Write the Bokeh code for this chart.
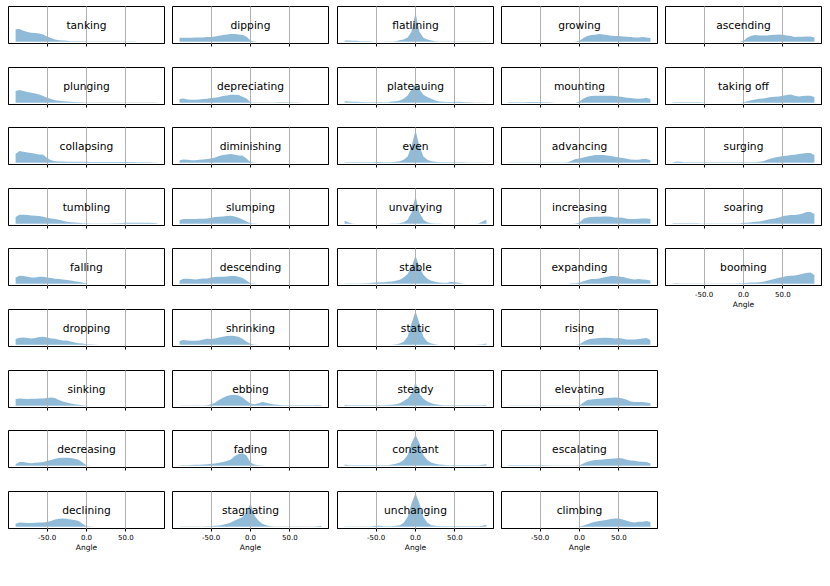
from bokeh.plotting import figure
from bokeh.layouts import row, column
from bokeh.models import Range1d, FixedTicker, PrintfTickFormatter, Label, ColumnDataSource, Spacer
from bokeh.embed import file_html
from bokeh.resources import INLINE

angles = list(range(-90, 95, 5))
H = 0.5  # faint tail

# ---- column 1 ----
tanking = [37, 38, 33, 29, 27, 26, 25, 22, 16, 11, 7, 5, 4, 3, 2, 2, 1.5, 1.5, 1] + [1] * 12 + [H] * 6
plunging = [35, 38, 35, 32, 30, 28, 25, 20, 15, 11, 8, 6, 5, 4, 3, 2.5, 2, 1.5, 1, 1, 1] + [0.8] * 16
collapsing = [27, 35, 33, 31, 29, 27, 25, 24, 14, 8, 5, 4, 4, 3, 3, 3, 3, 3, 3] + [2.5] * 12 + [2, 2, 2, 1.5, 1, 1]
tumbling = [20, 27, 27, 26, 25, 24, 23, 21, 18, 16, 14, 12, 9, 6, 5, 4, 3, 2, 2] + [1, 1, 1, 1, 1, 1, 1.5] + [2, 2.5, 3, 3.5, 3.5, 3.5, 3.5, 3, 3, 2.5, 2]
falling = [19, 24, 23, 21, 19, 19, 21, 21, 19, 17, 15, 14, 13, 11, 10, 8, 6, 4, 1] + [H] * 18
dropping = [17, 21, 22, 20, 19, 20, 23, 24, 22, 19, 18, 15, 13, 13, 10, 7, 5, 4, 2, 1.5, 1] + [H] * 16
sinking = [20, 22, 21, 20, 21, 21, 22, 22, 23, 25, 23, 17, 13, 10, 7, 5, 3, 2, 1] + [H] * 18
decreasing = [5, 11, 11, 9, 8, 9, 10, 11, 14, 17, 21, 23, 24, 24, 23, 21, 18, 10, 2] + [H] * 18
declining = [9, 13, 12, 11, 11, 12, 13, 13, 14, 17, 22, 24, 25, 24, 22, 20, 17, 9, 2, 1] + [H] * 17

# ---- column 2 ----
dipping = [12, 12, 12, 12, 13, 13, 13, 14, 14, 16, 18, 20, 22, 23, 23, 22, 20, 15, 4, 1] + [H] * 17
depreciating = [11, 13, 10, 9, 9, 10, 11, 12, 14, 15, 17, 20, 22, 24, 24, 23, 18, 13, 2] + [1, 1, 1, 1, 1, 1, 1.5, 1.5, 1.5, 1.5, 1, 1] + [H] * 6
diminishing = [8, 10, 9, 8, 8, 9, 10, 11, 13, 16, 20, 23, 25, 26, 24, 22, 21, 13, 2, 1] + [H] * 17
slumping = [11, 14, 14, 14, 14, 15, 15, 16, 18, 20, 21, 22, 23, 24, 22, 18, 13, 7, 2, 1] + [H] * 17
descending = [10, 15, 15, 14, 13, 14, 16, 16, 19, 20, 21, 21, 22, 23, 23, 21, 17, 10, 2, 1] + [H] * 17
shrinking = [11, 14, 13, 12, 12, 13, 16, 18, 17, 19, 22, 24, 26, 27, 26, 23, 18, 9, 3, 1] + [H] * 17
ebbing = [1, 1, 1, 1, 1, 1, 1, 1.5] + [5, 9, 17, 24, 29, 32, 33, 31, 25, 15, 7] + [5, 8, 11, 9, 6, 4, 3] + [2] * 9 + [2.5, 2]
fading = [2, 2, 2, 2.5, 3, 3.5, 4, 5, 6, 7, 9, 11, 14, 19, 29, 35, 37, 31, 10, 4, 2, 1] + [H] * 15
stagnating = [1, 1, 1, 1, 1, 1, 1, 1.5, 2, 3, 4, 6, 9, 13, 19, 24, 29, 44, 70, 34, 19, 9, 5, 2] + [1] * 11 + [1.5, 3]

# ---- column 3 ----
flatlining = [4, 4, 3, 3, 2, 2, 2, 1, H, H, 1, 1] + [1, 2, 5, 7, 13, 30, 87, 30, 12, 7, 4, 2, 1] + [1] * 12
plateauing = [5, 4, 3, 3, 2.5, 2, 2, 2, 2, 2, 2, 2] + [4, 5, 7, 12, 22, 40, 55, 40, 24, 17, 12, 7, 4] + [3, 2.5, 2.5, 3, 3, 2.5, 2, 1.5, 1, 1, 1, 1]
even = [2] * 8 + [2.5, 2.5, 2, 2] + [2, 3, 5, 9, 19, 49, 97, 49, 19, 9, 5, 3, 2] + [2, 2, 2, 2, 2, 1.5, 1, 1, 1, 1, 1, 1]
unvarying = [9, 4, 1] + [H] * 9 + [1, 1, 2, 5, 12, 34, 82, 34, 12, 5, 2, 1, 1] + [H] * 9 + [1, 7, 12]
stable = [1, 1, 1, 1, 1, 1.5, 2, 3, 4, 4.5, 5, 6] + [7, 9, 12, 19, 29, 50, 84, 50, 27, 15, 9, 6, 4] + [3.5, 3, 6, 5, 3, 1] + [H] * 6
static = [H] * 12 + [H, 2, 4, 9, 24, 64, 100, 64, 24, 9, 4, 2, H] + [H] * 9 + [1, 2, 4]
steady = [3, 2, 1.5, 1.5, 1.5, 1.5, 2, 2, 2, 2, 2, 2.5] + [3, 5, 8, 14, 22, 36, 69, 36, 21, 13, 8, 5, 3] + [2] + [1.5] * 9 + [2, 3]
constant = [4] + [2] * 11 + [4, 6, 10, 17, 32, 67, 92, 67, 32, 17, 10, 6, 4] + [3] + [2] * 9 + [3, 5]
unchanging = [1, 1, 1, 1, 1, 1, 1, 2, 3, 3, 2, 2] + [2, 3, 5, 12, 29, 69, 100, 69, 29, 12, 5, 3, 2] + [2] * 10 + [3, 6]

# ---- column 4 ----
growing = [H] * 17 + [1, 3] + [11, 17, 20, 21, 23, 22, 20, 18, 17, 17, 16, 15, 14, 13, 13, 14, 13, 11]
mounting = [2, 2, 2, 2, 2, 2.5, 2.5, 2.5, 2.5, 2, 2, 1] + [H] * 6 + [4] + [13, 18, 20, 21, 21, 21, 21, 21, 20, 19, 17, 15, 14, 13, 12, 13, 15, 11]
advancing = [1] * 15 + [1.5, 6, 11, 13] + [16, 19, 21, 23, 23, 23, 22, 20, 18, 16, 14, 12, 10, 9, 9, 11, 11, 8]
increasing = [H] * 17 + [1, 4] + [15, 19, 20, 21, 21, 22, 22, 21, 19, 19, 18, 15, 14, 14, 15, 16, 16, 14]
expanding = [H] * 16 + [1.5, 1.5, 4] + [8, 11, 14, 14, 16, 19, 21, 23, 23, 22, 20, 17, 14, 13, 14, 13, 12, 10]
rising = [H] * 18 + [2] + [9, 15, 18, 19, 20, 21, 21, 20, 19, 20, 18, 16, 16, 16, 17, 19, 20, 14]
elevating = [1] * 18 + [1] + [10, 17, 19, 20, 21, 22, 23, 24, 25, 24, 22, 18, 13, 11, 11, 11, 10, 8]
escalating = [1.5] * 11 + [1] * 7 + [1.5] + [7, 12, 15, 17, 18, 19, 20, 21, 22, 23, 22, 18, 16, 15, 13, 12, 11, 7]
climbing = [H] * 18 + [1] + [4, 8, 12, 15, 17, 19, 21, 23, 25, 25, 22, 18, 14, 13, 15, 15, 17, 14]

# ---- column 5 ----
ascending = [H] * 18 + [3] + [13, 18, 20, 19, 19, 19, 20, 21, 22, 21, 19, 17, 14, 15, 15, 16, 16, 13]
taking_off = [2] * 7 + [1.5, 1] + [H] * 9 + [2] + [5, 8, 10, 12, 13, 15, 17, 18, 19, 21, 23, 25, 21, 19, 20, 21, 21, 17]
surging = [1, 4, 3, 2, 1.5] + [2] * 12 + [2, 2] + [2, 1.5, 2, 3, 5, 9, 13, 16, 18, 20, 21, 23, 24, 26, 28, 29, 29, 23]
soaring = [2] * 7 + [1] * 11 + [3] + [3, 5, 6, 7, 9, 12, 14, 16, 19, 23, 25, 26, 26, 28, 31, 35, 35, 29]
booming = [1, 2] + [1] * 15 + [1.5, 2] + [3, 4, 4, 5, 6, 9, 12, 15, 18, 20, 23, 24, 25, 27, 30, 32, 34, 26]

columns = [
    [("tanking", tanking), ("plunging", plunging), ("collapsing", collapsing), ("tumbling", tumbling),
     ("falling", falling), ("dropping", dropping), ("sinking", sinking), ("decreasing", decreasing),
     ("declining", declining)],
    [("dipping", dipping), ("depreciating", depreciating), ("diminishing", diminishing), ("slumping", slumping),
     ("descending", descending), ("shrinking", shrinking), ("ebbing", ebbing), ("fading", fading),
     ("stagnating", stagnating)],
    [("flatlining", flatlining), ("plateauing", plateauing), ("even", even), ("unvarying", unvarying),
     ("stable", stable), ("static", static), ("steady", steady), ("constant", constant),
     ("unchanging", unchanging)],
    [("growing", growing), ("mounting", mounting), ("advancing", advancing), ("increasing", increasing),
     ("expanding", expanding), ("rising", rising), ("elevating", elevating), ("escalating", escalating),
     ("climbing", climbing)],
    [("ascending", ascending), ("taking off", taking_off), ("surging", surging), ("soaring", soaring),
     ("booming", booming)],
]

TICKS = [-50, 0, 50]
FONT = "DejaVu Sans"
ROW_H = [61, 60, 61, 60, 61, 61, 60, 61, 61]
COL_W = [164, 165, 164, 164, 165]
EXTRA_BOTTOM = 14
FRAME_W = 156
FRAME_H = 37


def make_panel(title, dens, w, h, show_labels):
    assert len(dens) == len(angles), title
    p = figure(width=w, height=h, x_range=Range1d(-99, 99), y_range=Range1d(-5, 105),
               output_backend="svg", toolbar_location=None,
               min_border_left=1, min_border_right=w - FRAME_W - 1, min_border_top=1,
               min_border_bottom=h - FRAME_H - 1)
    src = ColumnDataSource(dict(angle=angles, density=dens))
    p.varea(x="angle", y1=0, y2="density", source=src, fill_color="#1f77b4", fill_alpha=0.5)
    p.outline_line_color = "black"
    p.outline_line_width = 1
    p.background_fill_color = "white"
    p.border_fill_color = "white"
    p.ygrid.visible = False
    p.yaxis.visible = False
    p.xgrid.ticker = FixedTicker(ticks=TICKS)
    p.xgrid.grid_line_color = "#b0b0b0"
    p.xgrid.grid_line_width = 1
    p.xgrid.level = "guide"
    ax = p.xaxis[0]
    ax.ticker = FixedTicker(ticks=TICKS, minor_ticks=[])
    ax.formatter = PrintfTickFormatter(format="%.1f")
    ax.axis_line_color = "black"
    ax.major_tick_line_color = "black"
    ax.major_tick_out = 3
    ax.major_tick_in = 0
    ax.minor_tick_out = 0
    ax.minor_tick_in = 0
    ax.major_label_text_font = FONT
    ax.major_label_text_font_size = "7px"
    ax.major_label_text_color = "black"
    ax.major_label_standoff = 2
    if show_labels:
        ax.axis_label = "Angle"
        ax.axis_label_text_font = FONT
        ax.axis_label_text_font_size = "7.5px"
        ax.axis_label_text_font_style = "normal"
        ax.axis_label_text_color = "black"
        ax.axis_label_standoff = 0
    else:
        ax.major_label_text_alpha = 0
    p.add_layout(Label(x=0, y=50, text=title, text_align="center", text_baseline="middle",
                       text_font=FONT, text_font_size="10.7px", text_color="black"))
    return p


cols = []
for c, col in enumerate(columns):
    figs = [Spacer(width=COL_W[c], height=5)]
    for r, (name, dens) in enumerate(col):
        last = (r == len(col) - 1)
        h = ROW_H[r] + (EXTRA_BOTTOM if last else 0)
        figs.append(make_panel(name, dens, COL_W[c], h, last))
    cols.append(column(*figs, spacing=0))

layout = row(Spacer(width=7, height=10), *cols, spacing=0)
open("out.html", "w").write(file_html(layout, INLINE))
